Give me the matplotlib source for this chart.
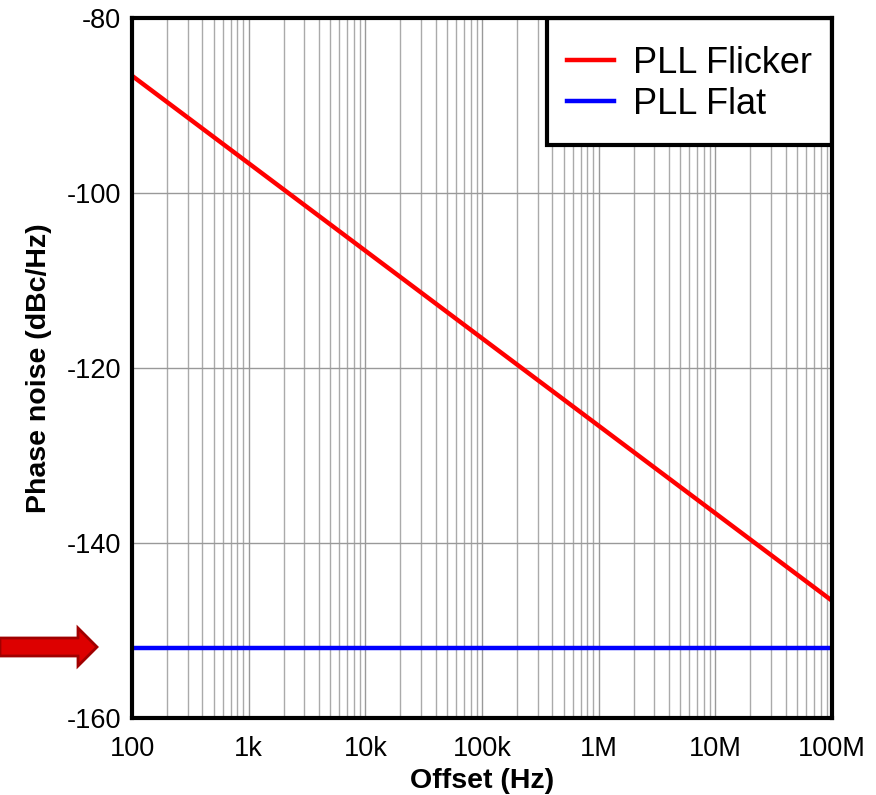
import matplotlib
matplotlib.use('Agg')
import matplotlib.pyplot as plt
import numpy as np
from matplotlib.patches import FancyArrow, Rectangle

plt.rcParams['font.family'] = ['Liberation Sans', 'DejaVu Sans']

# data
offsets = [1e2, 1e3, 1e4, 1e5, 1e6, 1e7, 1e8]
flicker = [-86.6, -96.6, -106.6, -116.6, -126.6, -136.6, -146.6]
flat = [-152, -152, -152, -152, -152, -152, -152]
xtick_labels = ['100', '1k', '10k', '100k', '1M', '10M', '100M']
yticks = [-160, -140, -120, -100, -80]

fig = plt.figure(figsize=(8.76, 7.95), dpi=100)
ax = fig.add_axes([132/876, 1 - 718/795, 700/876, 700/795])

ax.plot(offsets, flicker, color='#ff0000', lw=3.2, label='PLL Flicker', zorder=3)
ax.plot(offsets, flat, color='#0000ff', lw=3.2, label='PLL Flat', zorder=3)

ax.set_xscale('log')
ax.set_xlim(1e2, 1e8)
ax.set_ylim(-160, -80)
ax.set_xticks(offsets)
ax.set_xticklabels(xtick_labels)
ax.set_yticks(yticks)
ax.set_yticklabels([str(v) for v in yticks])
ax.tick_params(axis='both', which='both', length=0, labelsize=19.5)
ax.tick_params(axis='x', pad=13)
ax.tick_params(axis='y', pad=8)

ax.grid(True, which='major', axis='both', color='#999999', lw=1)
ax.grid(True, which='minor', axis='x', color='#aaaaaa', lw=1)

for s in ax.spines.values():
    s.set_linewidth(3)
    s.set_color('black')
    s.set_zorder(6)

ax.set_xlabel('Offset (Hz)', fontsize=20.5, fontweight='bold', labelpad=4)
ax.set_ylabel('Phase noise (dBc/Hz)', fontsize=20.5, fontweight='bold', labelpad=10)

# legend box drawn as its own rectangle so the padding matches
box = Rectangle((415/700, 573/700), 285/700, 127/700, transform=ax.transAxes,
                facecolor='white', edgecolor='black', lw=3, zorder=4.5)
ax.add_patch(box)
leg = ax.legend(loc='center', bbox_to_anchor=(557.5/700, 634/700),
                fontsize=26, frameon=False, borderpad=0, borderaxespad=0,
                handlelength=1.3, handletextpad=0.55, labelspacing=0.17)
leg.set_zorder(5)
for h in leg.get_lines():
    h.set_linewidth(3.2)

# arrow pointing at the flat line (figure pixels)
W, H = 876, 795
arr = FancyArrow(0, 1 - 647/H, 97/W, 0, width=18/H, head_width=38/H,
                 head_length=19/W, length_includes_head=True,
                 transform=fig.transFigure, facecolor='#dd0000',
                 edgecolor='#a00000', lw=2)
fig.patches.append(arr)

fig.savefig('out.png', dpi=100)
